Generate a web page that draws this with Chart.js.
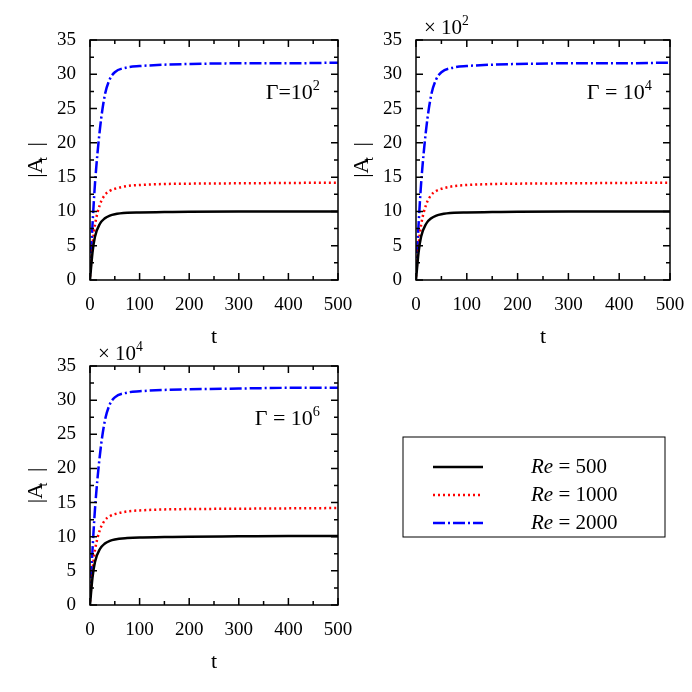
<!DOCTYPE html>
<html>
<head>
<meta charset="utf-8">
<script src="https://cdn.jsdelivr.net/npm/chart.js@4/dist/chart.umd.min.js"></script>
<style>
  html, body { margin: 0; padding: 0; background: #fff; }
  #wrap { position: relative; width: 692px; height: 692px; }
  #wrap canvas { position: absolute; left: 0; top: 0; }
</style>
</head>
<body>
<div id="wrap">
  <canvas id="c1" width="692" height="692"></canvas>
  <canvas id="c2" width="692" height="692"></canvas>
  <canvas id="c3" width="692" height="692"></canvas>
</div>
<script>
// sample times
const times = [0, 5, 10, 20, 30, 40, 50, 75, 100, 150, 200, 300, 400, 500];
const re500 = [0, 4, 6.3, 8.2, 9.0, 9.4, 9.6, 9.8, 9.85, 9.9, 9.95, 10, 10, 10];
const re1000 = [0.5, 5, 8, 11, 12.4, 13, 13.3, 13.7, 13.85, 14, 14.05, 14.1, 14.15, 14.2];
const re2000 = [1, 8, 14, 22, 27, 29.3, 30.3, 31, 31.2, 31.4, 31.5, 31.6, 31.6, 31.7];
const re500c = [0, 4, 6.3, 8.2, 9.0, 9.4, 9.6, 9.8, 9.9, 9.95, 10, 10.05, 10.1, 10.1];
const re2000c = [1, 8, 14, 22, 27, 29.4, 30.4, 31.1, 31.3, 31.5, 31.6, 31.7, 31.8, 31.8];
const xTicks = [0, 100, 200, 300, 400, 500];
const yTicks = [0, 5, 10, 15, 20, 25, 30, 35];
const seriesNames = ['500', '1000', '2000'];

const serif = '"Liberation Serif", "DejaVu Serif", serif';
const styles = [
  { color: '#000000', dash: [] },
  { color: '#ff0000', dash: [2, 3] },
  { color: '#0000ff', dash: [12, 3, 2, 3] }
];

function pts(vals) { return times.map((t, i) => ({ x: t, y: vals[i] })); }

// draws text with a super/subscript piece
function richText(ctx, x, y, base, script, sup, size, align) {
  ctx.font = size + 'px ' + serif;
  const wb = ctx.measureText(base).width;
  ctx.font = (size * 0.65) + 'px ' + serif;
  const ws = ctx.measureText(script).width;
  let sx = align === 'right' ? x - wb - ws : x;
  ctx.textAlign = 'left';
  ctx.textBaseline = 'alphabetic';
  ctx.font = size + 'px ' + serif;
  ctx.fillText(base, sx, y);
  ctx.font = (size * 0.65) + 'px ' + serif;
  ctx.fillText(script, sx + wb, sup ? y - size * 0.42 : y + size * 0.22);
}

function makeChart(id, area, sets, label, factor, legend) {
  const decor = {
    id: 'decor',
    afterDraw(chart) {
      const ctx = chart.ctx;
      const a = chart.chartArea;
      const xs = chart.scales.x, ys = chart.scales.y;
      ctx.save();
      ctx.strokeStyle = '#000';
      ctx.lineWidth = 1.5;
      ctx.setLineDash([]);
      ctx.strokeRect(a.left, a.top, a.right - a.left, a.bottom - a.top);
      ctx.beginPath();
      xTicks.forEach(v => {
        const px = xs.getPixelForValue(v);
        ctx.moveTo(px, a.bottom); ctx.lineTo(px, a.bottom - 7);
        ctx.moveTo(px, a.top); ctx.lineTo(px, a.top + 7);
      });
      for (let v = 50; v < 500; v += 100) {
        const px = xs.getPixelForValue(v);
        ctx.moveTo(px, a.bottom); ctx.lineTo(px, a.bottom - 4);
        ctx.moveTo(px, a.top); ctx.lineTo(px, a.top + 4);
      }
      yTicks.forEach(v => {
        const py = ys.getPixelForValue(v);
        ctx.moveTo(a.left, py); ctx.lineTo(a.left + 7, py);
        ctx.moveTo(a.right, py); ctx.lineTo(a.right - 7, py);
      });
      for (let v = 2.5; v < 35; v += 5) {
        const py = ys.getPixelForValue(v);
        ctx.moveTo(a.left, py); ctx.lineTo(a.left + 4, py);
        ctx.moveTo(a.right, py); ctx.lineTo(a.right - 4, py);
      }
      ctx.stroke();
      ctx.fillStyle = '#000';
      // axis titles
      ctx.font = '22px ' + serif;
      ctx.textAlign = 'center';
      ctx.textBaseline = 'alphabetic';
      ctx.fillText('t', (a.left + a.right) / 2, a.bottom + 63);
      ctx.save();
      ctx.translate(a.left - 48, (a.top + a.bottom) / 2);
      ctx.rotate(-Math.PI / 2);
      ctx.font = '22px ' + serif;
      ctx.textAlign = 'center';
      ctx.fillText('|A  |', 0, 0);
      ctx.font = '14px ' + serif;
      ctx.fillText('t', 1, 5);
      ctx.restore();
      // Gamma label
      richText(ctx, a.right - 18, a.top + 59, label[0], label[1], true, 22, 'right');
      if (factor) richText(ctx, a.left + 8, a.top - 6, '\u00d7 10', factor, true, 21, 'left');
      if (legend) {
        const L = legend;
        ctx.lineWidth = 1;
        ctx.strokeRect(L.x, L.y, L.w, L.h);
        seriesNames.forEach((n, i) => {
          const yy = L.y + 30 + i * 28;
          ctx.strokeStyle = styles[i].color;
          ctx.lineWidth = 2.5;
          ctx.setLineDash(styles[i].dash);
          ctx.beginPath();
          ctx.moveTo(L.x + 30, yy); ctx.lineTo(L.x + 80, yy);
          ctx.stroke();
          ctx.setLineDash([]);
          ctx.fillStyle = '#000';
          ctx.textAlign = 'left';
          ctx.textBaseline = 'middle';
          ctx.font = 'italic 21px ' + serif;
          ctx.fillText('Re', L.x + 128, yy);
          const w = ctx.measureText('Re').width;
          ctx.font = '21px ' + serif;
          ctx.fillText(' = ' + n, L.x + 128 + w, yy);
        });
      }
      ctx.restore();
    }
  };
  return new Chart(document.getElementById(id), {
    type: 'line',
    data: {
      datasets: sets.map((vals, i) => ({
        data: pts(vals),
        borderColor: styles[i].color,
        borderDash: styles[i].dash,
        borderWidth: 2.5,
        pointRadius: 0,
        cubicInterpolationMode: 'monotone',
        fill: false
      }))
    },
    options: {
      responsive: false,
      animation: false,
      events: [],
      layout: { padding: { left: area.l - 40, right: 692 - area.r, top: area.t, bottom: 692 - area.b - 40 } },
      plugins: { legend: { display: false }, tooltip: { enabled: false } },
      scales: {
        x: {
          type: 'linear', min: 0, max: 500,
          afterFit: s => { s.height = 40; },
          afterBuildTicks: s => { s.ticks = xTicks.map(v => ({ value: v })); },
          grid: { display: false },
          border: { display: false },
          ticks: { color: '#000', font: { family: serif, size: 19 }, padding: 6, maxRotation: 0 }
        },
        y: {
          min: 0, max: 35,
          afterFit: s => { s.width = 40; },
          afterBuildTicks: s => { s.ticks = yTicks.map(v => ({ value: v })); },
          grid: { display: false },
          border: { display: false },
          ticks: { color: '#000', font: { family: serif, size: 19 }, padding: 6 }
        }
      }
    },
    plugins: [decor]
  });
}

makeChart('c1', { l: 90, r: 338, t: 40, b: 280 }, [re500, re1000, re2000], ['\u0393=10', '2'], null, null);
makeChart('c2', { l: 416, r: 670, t: 40, b: 280 }, [re500, re1000, re2000], ['\u0393 = 10', '4'], '2', null);
makeChart('c3', { l: 90, r: 338, t: 366, b: 605 }, [re500c, re1000, re2000c], ['\u0393 = 10', '6'], '4',
  { x: 403, y: 437, w: 262, h: 100 });
</script>
</body>
</html>
